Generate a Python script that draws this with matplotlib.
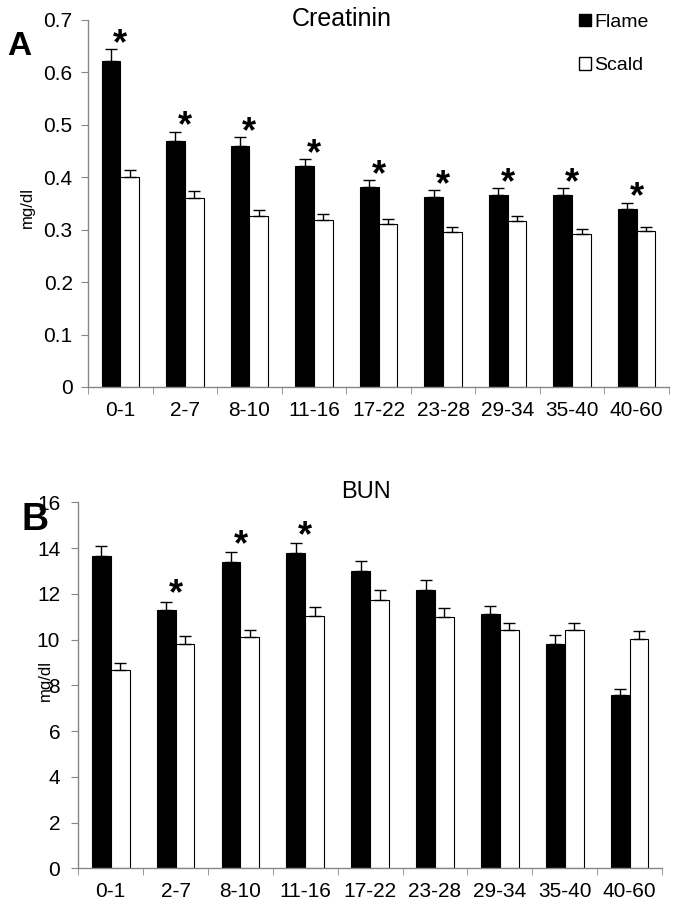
import numpy as np
from matplotlib import pyplot as plt
from matplotlib.patches import Patch

plt.rcParams['font.family'] = ['Liberation Sans', 'DejaVu Sans']

# Age groups
groups = ['0-1', '2-7', '8-10', '11-16', '17-22', '23-28', '29-34', '35-40', '40-60']

# Creatinin (mg/dl)
creat_flame = [0.622, 0.469, 0.460, 0.421, 0.381, 0.362, 0.366, 0.366, 0.339]
creat_flame_err = [0.022, 0.017, 0.016, 0.013, 0.013, 0.013, 0.013, 0.013, 0.012]
creat_scald = [0.400, 0.360, 0.327, 0.318, 0.310, 0.295, 0.316, 0.291, 0.297]
creat_scald_err = [0.013, 0.013, 0.011, 0.011, 0.011, 0.010, 0.011, 0.010, 0.009]
creat_sig = [True, True, True, True, True, True, True, True, True]

# BUN (mg/dl)
bun_flame = [13.64, 11.28, 13.38, 13.77, 13.00, 12.17, 11.10, 9.79, 7.56]
bun_flame_err = [0.46, 0.38, 0.44, 0.44, 0.42, 0.42, 0.38, 0.40, 0.27]
bun_scald = [8.66, 9.79, 10.10, 11.02, 11.72, 10.97, 10.40, 10.40, 10.04]
bun_scald_err = [0.30, 0.35, 0.33, 0.39, 0.43, 0.40, 0.34, 0.34, 0.35]
bun_sig = [False, True, True, True, False, False, False, False, False]

creat_ticks = [0, 0.1, 0.2, 0.3, 0.4, 0.5, 0.6, 0.7]
creat_ticklabels = ['0', '0.1', '0.2', '0.3', '0.4', '0.5', '0.6', '0.7']
bun_ticks = [0, 2, 4, 6, 8, 10, 12, 14, 16]

axis_grey = '#868686'
width = 0.29


def draw_panel(ax, flame, flame_err, scald, scald_err, sig, star_gap, ylim, yticks, yticklabels, ypad):
    x = np.arange(len(groups)) + 0.5
    ax.bar(x - width / 2, flame, width, color='black', edgecolor='black', linewidth=0.8,
           yerr=[np.zeros(len(flame)), flame_err], error_kw=dict(ecolor='black', elinewidth=1, capsize=4, capthick=1))
    ax.bar(x + width / 2, scald, width, color='white', edgecolor='black', linewidth=0.8,
           yerr=[np.zeros(len(scald)), scald_err], error_kw=dict(ecolor='black', elinewidth=1, capsize=4, capthick=1))
    # significance stars
    for i in range(len(groups)):
        if sig[i]:
            ax.annotate('*', xy=(x[i], flame[i] + flame_err[i] + star_gap), xytext=(0, -14.5),
                        textcoords='offset points', ha='center', va='baseline',
                        fontsize=26, fontweight='bold')
    ax.set_xlim(0, len(groups))
    ax.set_ylim(*ylim)
    ax.set_xticks(x)
    ax.set_xticklabels(groups, fontsize=15)
    ax.set_xticks(np.arange(len(groups) + 1), minor=True)
    ax.tick_params(axis='x', which='major', length=0, pad=10)
    ax.tick_params(axis='x', which='minor', length=5, color=axis_grey, direction='out')
    ax.set_yticks(yticks)
    ax.set_yticklabels(yticklabels, fontsize=15)
    ax.tick_params(axis='y', length=5, color=axis_grey, pad=ypad)
    for s in ['top', 'right']:
        ax.spines[s].set_visible(False)
    for s in ['left', 'bottom']:
        ax.spines[s].set_color(axis_grey)
        ax.spines[s].set_linewidth(1)


fig = plt.figure(figsize=(6.79, 9.09), dpi=100)

ax1 = fig.add_axes([0.1296, 0.5743, 0.8557, 0.4037])
draw_panel(ax1, creat_flame, creat_flame_err, creat_scald, creat_scald_err, creat_sig, 0.03,
           (0, 0.7), creat_ticks, creat_ticklabels, 6)
ax1.set_ylabel('mg/dl', fontsize=12)
ax1.yaxis.set_label_coords(-0.091, 0.489)
ax1.text(0.437, 1.004, 'Creatinin', transform=ax1.transAxes, ha='center', va='center', fontsize=18)
ax1.legend(handles=[Patch(facecolor='black', edgecolor='black', label='Flame'),
                    Patch(facecolor='white', edgecolor='black', label='Scald')],
           loc='upper left', bbox_to_anchor=(579 / 679, 1 - 14 / 909), bbox_transform=fig.transFigure,
           frameon=False, fontsize=14, handlelength=0.6, handleheight=0.6, handletextpad=0.2,
           labelspacing=1.35, borderpad=0, borderaxespad=0)

ax2 = fig.add_axes([0.1153, 0.0448, 0.8597, 0.4026])
draw_panel(ax2, bun_flame, bun_flame_err, bun_scald, bun_scald_err, bun_sig, 0.75,
           (0, 16), bun_ticks, [str(t) for t in bun_ticks], 8)
ax2.set_ylabel('mg/dl', fontsize=12)
ax2.yaxis.set_label_coords(-0.043, 0.512)
ax2.text(0.4926, 1.028, 'BUN', transform=ax2.transAxes, ha='center', va='center', fontsize=17)

fig.text(7 / 679, 1 - 55 / 909, 'A', fontsize=24, fontweight='bold', ha='left', va='baseline')
fig.text(21 / 679, 1 - 530 / 909, 'B', fontsize=27, fontweight='bold', ha='left', va='baseline')

plt.savefig('out.png', dpi=100)
